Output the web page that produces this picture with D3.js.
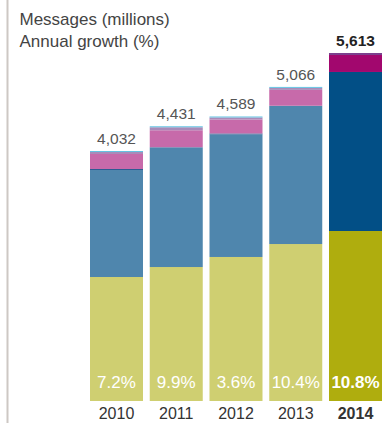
<!DOCTYPE html>
<html>
<head>
<meta charset="utf-8">
<script src="https://cdn.jsdelivr.net/npm/d3@7"></script>
<style>
  html, body { margin: 0; padding: 0; background: #fff; }
  svg { display: block; font-family: "Liberation Sans", Arial, sans-serif; }
</style>
</head>
<body>
<svg id="chart" width="382" height="423"></svg>
<script>
// Message volumes by year (millions), stacked bottom to top
const years   = ["2010", "2011", "2012", "2013", "2014"];
const totals  = [4032, 4431, 4589, 5066, 5613];
const growth  = ["7.2%", "9.9%", "3.6%", "10.4%", "10.8%"];
const olive   = [2000, 2161, 2323, 2532, 2742];
const steel   = [1726, 1932, 1976, 2230, 2565];
const navy    = [16, 0, 16, 0, 0];
const pink    = [242, 274, 226, 256, 274];
const lilac   = [32, 48, 32, 32, 32];
const cyan    = [16, 16, 16, 16, 0];

const seriesKeys = ["olive", "steel", "navy", "pink", "lilac", "cyan"];
const seriesVals = { olive, steel, navy, pink, lilac, cyan };

// Regular colours for past years, stronger ones for the current year
const colors = {
  olive: "#cfcf71", steel: "#4f86ad", navy: "#2d5a92",
  pink: "#c76aaa", lilac: "#a98bb9", cyan: "#62c3e2"
};
const colorsCurrent = {
  olive: "#afad0e", steel: "#024f86", navy: "#024f86",
  pink: "#a2076e", lilac: "#7b3f8d", cyan: "#7b3f8d"
};
const currentYear = "2014";

const rows = years.map((y, i) => {
  const r = { year: y };
  seriesKeys.forEach(k => r[k] = seriesVals[k][i]);
  return r;
});

const svg = d3.select("#chart");

const x = d3.scaleBand().domain(years).range([90, 382]).paddingInner(0.113).paddingOuter(0);
const y = d3.scaleLinear().domain([0, d3.max(totals)]).range([401, 53]);

// Left rule
svg.append("line")
  .attr("x1", 7.5).attr("x2", 7.5).attr("y1", 0).attr("y2", 423)
  .attr("stroke", "#cdc8c4").attr("stroke-width", 2);

// Titles
svg.append("text").attr("x", 19.5).attr("y", 25)
  .attr("font-size", 17).attr("fill", "#444").text("Messages (millions)");
svg.append("text").attr("x", 19.5).attr("y", 46.5)
  .attr("font-size", 17).attr("fill", "#444").text("Annual growth (%)");

// Stacked bars
const stack = d3.stack().keys(seriesKeys)(rows);
svg.append("g").selectAll("g")
  .data(stack).join("g")
  .each(function(layer) {
    d3.select(this).selectAll("rect")
      .data(layer).join("rect")
      .attr("x", d => x(d.data.year))
      .attr("width", x.bandwidth())
      .attr("y", d => y(d[1]))
      .attr("height", d => Math.max(0, y(d[0]) - y(d[1])))
      .attr("fill", d => (d.data.year === currentYear ? colorsCurrent : colors)[layer.key]);
  });

// Totals above bars
svg.append("g").selectAll("text")
  .data(years).join("text")
  .attr("x", d => x(d) + x.bandwidth() / 2)
  .attr("y", (d, i) => y(totals[i]) - 7)
  .attr("text-anchor", "middle")
  .attr("font-size", 15.5)
  .attr("font-weight", d => d === currentYear ? "bold" : "normal")
  .attr("fill", d => d === currentYear ? "#222" : "#555")
  .text((d, i) => d3.format(",")(totals[i]));

// Growth labels inside bars
svg.append("g").selectAll("text")
  .data(years).join("text")
  .attr("x", d => x(d) + x.bandwidth() / 2)
  .attr("y", 388)
  .attr("text-anchor", "middle")
  .attr("font-size", 17)
  .attr("font-weight", d => d === currentYear ? "bold" : "normal")
  .attr("fill", "#fff")
  .text((d, i) => growth[i]);

// Year axis
const axis = svg.append("g").attr("transform", "translate(0,401)")
  .call(d3.axisBottom(x).tickSize(0).tickPadding(7));
axis.select(".domain").remove();
axis.selectAll("text")
  .attr("font-size", 16)
  .attr("font-family", "Liberation Sans, Arial, sans-serif")
  .attr("fill", "#333")
  .attr("dy", "0.71em")
  .attr("font-weight", d => d === currentYear ? "bold" : "normal");
</script>
</body>
</html>
